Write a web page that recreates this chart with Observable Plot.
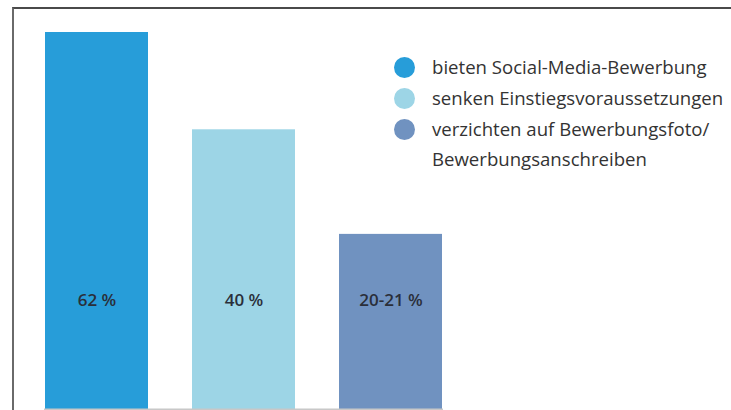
<!DOCTYPE html>
<html><head><meta charset="utf-8">
<script src="https://cdn.jsdelivr.net/npm/d3@7"></script>
<script src="https://cdn.jsdelivr.net/npm/@observablehq/plot@0.6"></script>
<style>
html,body{margin:0;padding:0;background:#fff;overflow:hidden;}
#wrap{position:relative;width:731px;height:410px;overflow:hidden;font-family:"Open Sans",sans-serif;}
#frame{position:absolute;left:12px;top:7px;right:-20px;bottom:-20px;border-top:2px solid #4a4a4a;border-left:2px solid #6a6a6a;}
#chart{position:absolute;left:0;top:0;}
#legend{position:absolute;left:394px;top:52px;color:#333;font-size:18.6px;}
.item{display:flex;align-items:flex-start;}
.dot{width:21px;height:21px;border-radius:50%;margin-top:5px;margin-right:17px;flex:none;}
.lbl{line-height:30px;margin-bottom:1px;}
</style></head>
<body><div id="wrap"><div id="frame"></div><div id="chart"></div><div id="legend"></div></div>
<script>
const categories = ["bieten Social-Media-Bewerbung", "senken Einstiegsvoraussetzungen", "verzichten auf Bewerbungsfoto/\nBewerbungsanschreiben"];
const barHeights = [62, 46, 28.8];
const valueLabels = ["62 %", "40 %", "20-21 %"];
const colors = ["#279dd9", "#9dd5e6", "#7092c0"];

const data = categories.map((c, i) => ({cat: c, h: barHeights[i], label: valueLabels[i]}));

const chart = Plot.plot({
  width: 731, height: 410,
  marginLeft: 44, marginRight: 288, marginTop: 32, marginBottom: 1,
  x: {domain: categories, paddingInner: 0.3, paddingOuter: 0, axis: null},
  y: {domain: [0, 62], axis: null},
  color: {domain: categories, range: colors},
  style: {background: "transparent", fontFamily: "Open Sans"},
  marks: [
    Plot.barY(data, {x: "cat", y: "h", fill: "cat"}),
    Plot.ruleY([0], {stroke: "#c8c8c8", strokeWidth: 2}),
    Plot.text(data, {x: "cat", y: 18, text: "label", fill: "#2a2f3a", fontSize: 17, fontWeight: 600})
  ]
});
document.getElementById("chart").appendChild(chart);

const legend = document.getElementById("legend");
categories.forEach((c, i) => {
  const item = document.createElement("div");
  item.className = "item";
  const dot = document.createElement("div");
  dot.className = "dot";
  dot.style.background = colors[i];
  const lbl = document.createElement("div");
  lbl.className = "lbl";
  lbl.innerHTML = c.split("\n").join("<br>");
  item.appendChild(dot); item.appendChild(lbl);
  legend.appendChild(item);
});
</script></body></html>
